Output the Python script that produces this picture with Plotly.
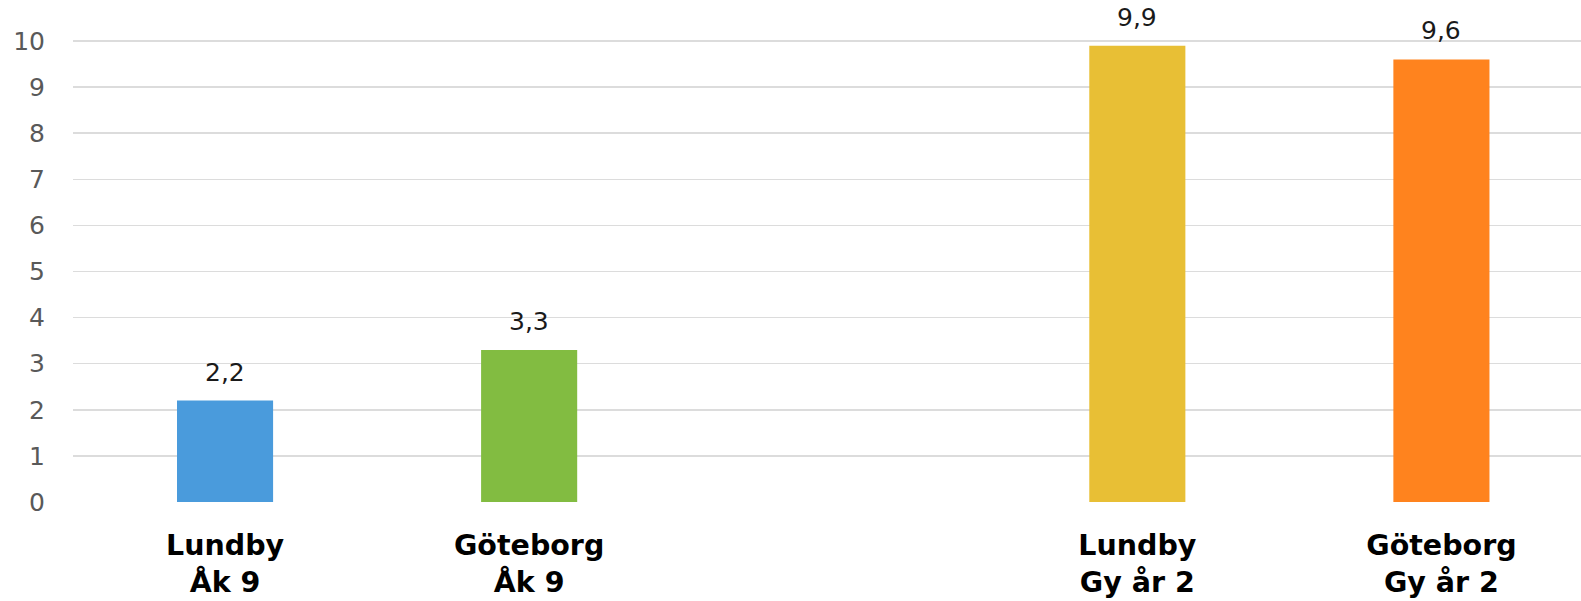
import plotly.graph_objects as go

categories = ["Lundby<br>Åk 9", "Göteborg<br>Åk 9", " ", "Lundby<br>Gy år 2", "Göteborg<br>Gy år 2"]
values = [2.2, 3.3, None, 9.9, 9.6]
colors = ["#4A9BDC", "#82BC41", "#FFFFFF", "#E8BF35", "#FF831E"]
y_ticks = list(range(0, 11))

FONT = "DejaVu Sans, Liberation Sans, Arial"

fig = go.Figure()
fig.add_trace(go.Bar(
    x=categories, y=values, marker=dict(color=colors, line=dict(width=0)),
    width=0.316, hoverinfo="skip",
))

for c, v in zip(categories, values):
    if v is None:
        continue
    fig.add_annotation(
        x=c, y=v, text=f"{v:.1f}".replace(".", ","), showarrow=False,
        yanchor="bottom", yshift=12,
        font=dict(family=FONT, size=25, color="#1a1a1a"),
    )

fig.update_layout(
    width=1581, height=601,
    margin=dict(l=73, r=0, t=18, b=99, autoexpand=False),
    paper_bgcolor="white", plot_bgcolor="white",
    showlegend=False,
    font=dict(family=FONT),
)
fig.update_xaxes(
    type="category", range=[-0.5, 4.459], showgrid=False, showline=False,
    zeroline=False, ticks="", automargin=False,
    tickfont=dict(family=FONT, size=28.5, color="#000000", weight="bold"),
    ticklabelstandoff=23,
)
fig.update_yaxes(
    range=[0, 10.5], tickvals=y_ticks, showgrid=True, gridcolor="#DCDCDC",
    gridwidth=1.5, zeroline=False, showline=False, ticks="", automargin=False,
    tickfont=dict(family=FONT, size=25, color="#595959"),
    ticklabelstandoff=27,
)

fig.write_html(
    "out.html",
    config={"displayModeBar": False, "staticPlot": True},
    post_script="document.body.style.margin='0';document.body.style.overflow='hidden';",
)
